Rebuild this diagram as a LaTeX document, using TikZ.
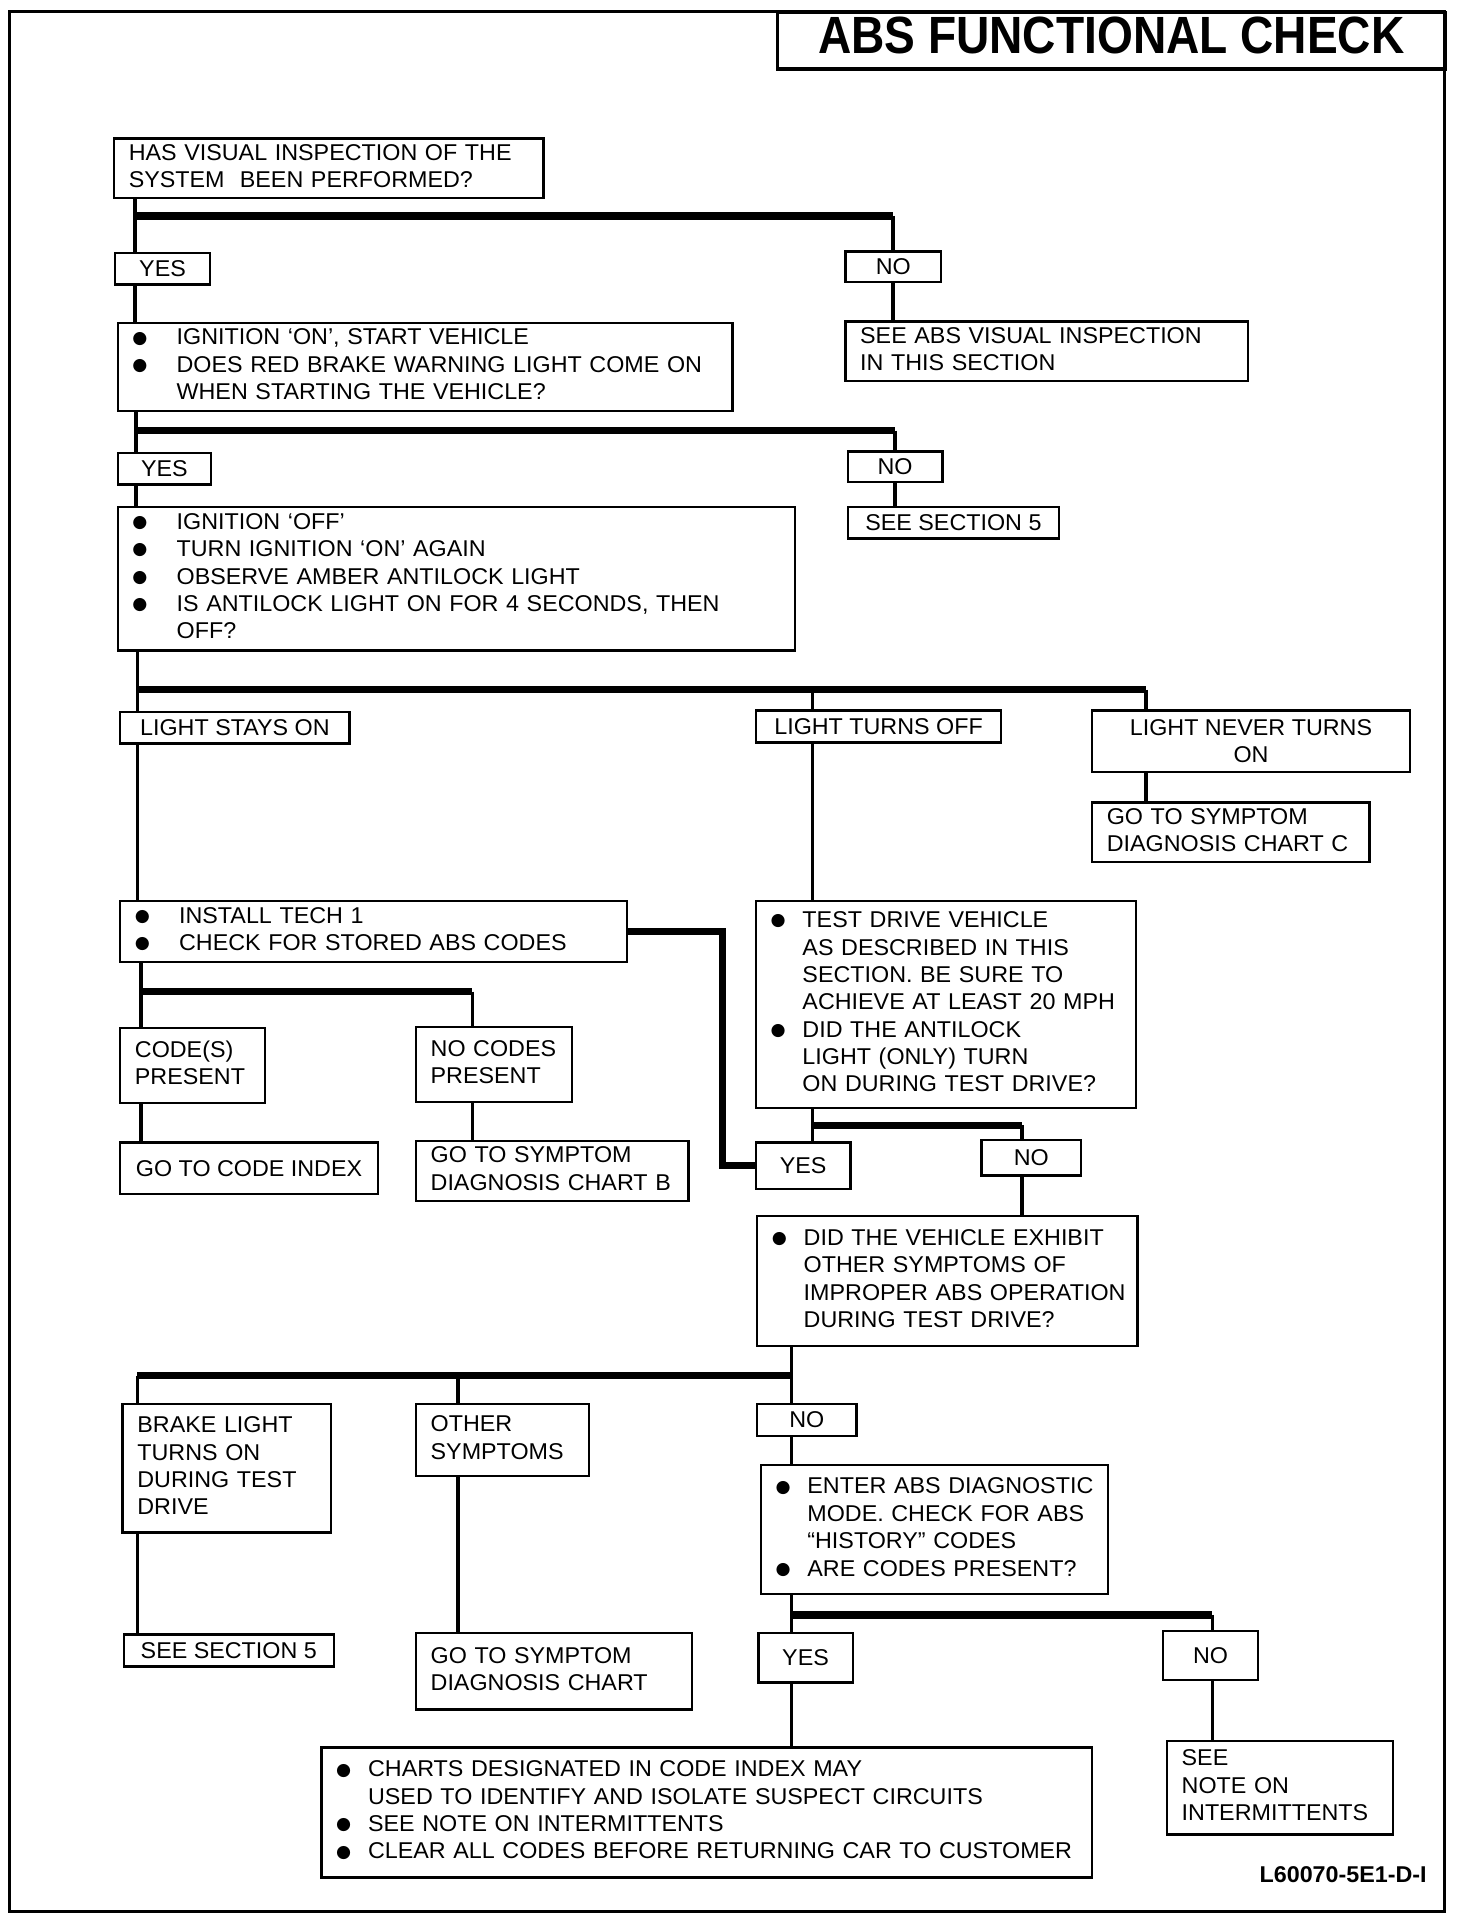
\documentclass[tikz,border=0pt]{standalone}
\usepackage{fontspec}
\newfontfamily\chartfont[FakeStretch=1.02]{Liberation Sans}
\newfontfamily\titlefont[FakeStretch=0.88]{Liberation Sans}
\newfontfamily\dotfont{DejaVu Sans}
\usetikzlibrary{positioning}
\newcommand{\txt}{\chartfont\fontsize{10.6}{12.7}\selectfont}
\newcommand{\rows}[1]{\begin{tabular}{@{}l@{}}#1\end{tabular}}
\newcommand{\dotmark}{\raisebox{0.8pt}{\dotfont\fontsize{8}{8}\selectfont ●}}
\newcommand{\bula}{\makebox[0.72cm][l]{\dotmark}}
\newcommand{\bulb}{\makebox[0.52cm][l]{\dotmark}}
\newcommand{\skipa}{\hspace*{0.72cm}}
\newcommand{\skipb}{\hspace*{0.52cm}}

\begin{document}
\begin{tikzpicture}[x=0.02cm, y=-0.02cm]
\tikzstyle{box}=[draw=black, line width=1.1pt, anchor=north west, align=left, inner xsep=0.24cm, inner ysep=0.04cm, font=\txt]
\tikzstyle{tag}=[draw=black, line width=1.1pt, anchor=north west, align=center, inner sep=0.04cm, font=\txt]
\tikzstyle{vline}=[-, line width=1.7pt]
\tikzstyle{hline}=[-, line width=3.4pt]
\useasboundingbox (0,0) rectangle (1200,1563);
\draw[line width=1.4pt] (8,9) rectangle (1177,1558);
\node[draw=black, line width=1.4pt, anchor=north west, minimum width=10.9cm, minimum height=0.92cm, inner sep=0pt, text height=0.61cm, text depth=0.21cm, font=\titlefont\bfseries\fontsize{24.3}{26}\selectfont] (title) at (632,9) {ABS FUNCTIONAL CHECK};

% first question
\node[box, text width=6.52cm, minimum height=0.9cm] (inspect) at (92,112) {\rows{HAS VISUAL INSPECTION OF THE\\SYSTEM\ \ BEEN PERFORMED?}};
\node[tag, minimum width=1.54cm, minimum height=0.52cm] (yes1) at (93,205) {YES};
\node[tag, minimum width=1.56cm, minimum height=0.5cm] (no1) at (688,204) {NO};
\node[box, text width=9.54cm, minimum height=1.44cm] (start) at (95,262) {\rows{\bula IGNITION ‘ON’, START VEHICLE\\\bula DOES RED BRAKE WARNING LIGHT COME ON\\\skipa WHEN STARTING THE VEHICLE?}};
\node[box, text width=6.08cm, minimum height=0.9cm] (seevis) at (688,261) {\rows{SEE ABS VISUAL INSPECTION\\IN THIS SECTION}};

% antilock light
\node[tag, minimum width=1.52cm, minimum height=0.52cm] (yes2) at (95,368) {YES};
\node[tag, minimum width=1.54cm, minimum height=0.5cm] (no2) at (690,367) {NO};
\node[tag, minimum width=3.44cm, minimum height=0.52cm] (sec5a) at (690,412) {SEE SECTION 5};
\node[box, text width=10.56cm, minimum height=2.34cm] (amber) at (95,412) {\rows{\bula IGNITION ‘OFF’\\\bula TURN IGNITION ‘ON’ AGAIN\\\bula OBSERVE AMBER ANTILOCK LIGHT\\\bula IS ANTILOCK LIGHT ON FOR 4 SECONDS, THEN\\\skipa OFF?}};
\node[tag, minimum width=3.74cm, minimum height=0.52cm] (stays) at (97,579) {LIGHT STAYS ON};
\node[tag, minimum width=4.0cm, minimum height=0.52cm] (turnsoff) at (615,578) {LIGHT TURNS OFF};
\node[tag, minimum width=5.18cm, minimum height=1.0cm] (never) at (889,578) {LIGHT NEVER TURNS\\ON};
\node[box, text width=4.04cm, minimum height=0.9cm] (chartc) at (889,653) {\rows{GO TO SYMPTOM\\DIAGNOSIS CHART C}};

% codes and test drive
\node[box, text width=7.78cm, minimum height=1.0cm] (tech) at (97,733) {\rows{\bula INSTALL TECH 1\\\bula CHECK FOR STORED ABS CODES}};
\node[box, text width=5.72cm, minimum height=3.38cm] (drive) at (615,733) {\rows{\bulb TEST DRIVE VEHICLE\\\skipb AS DESCRIBED IN THIS\\\skipb SECTION. BE SURE TO\\\skipb ACHIEVE AT LEAST 20 MPH\\\bulb DID THE ANTILOCK\\\skipb LIGHT (ONLY) TURN\\\skipb ON DURING TEST DRIVE?}};
\node[box, text width=1.88cm, minimum height=1.22cm] (codes) at (97,837) {\rows{CODE(S)\\PRESENT}};
\node[box, text width=2.06cm, minimum height=1.22cm] (nocodes) at (338,836) {\rows{NO CODES\\PRESENT}};
\node[tag, minimum width=4.2cm, minimum height=0.84cm] (index) at (97,930) {GO TO CODE INDEX};
\node[box, text width=3.96cm, minimum height=0.96cm] (chartb) at (338,929) {\rows{GO TO SYMPTOM\\DIAGNOSIS CHART B}};
\node[tag, minimum width=1.54cm, minimum height=0.76cm] (yes3) at (615,930) {YES};
\node[tag, minimum width=1.62cm, minimum height=0.58cm] (no3) at (799,928) {NO};
\node[box, text width=5.72cm, minimum height=2.12cm] (exhibit) at (616,990) {\rows{\bulb DID THE VEHICLE EXHIBIT\\\skipb OTHER SYMPTOMS OF\\\skipb IMPROPER ABS OPERATION\\\skipb DURING TEST DRIVE?}};

% other symptoms
\node[box, text width=2.92cm, minimum height=2.1cm] (brake) at (99,1143) {\rows{BRAKE LIGHT\\TURNS ON\\DURING TEST\\DRIVE}};
\node[box, text width=2.34cm, minimum height=1.18cm] (other) at (338,1143) {\rows{OTHER\\SYMPTOMS}};
\node[tag, minimum width=1.62cm, minimum height=0.52cm] (no4) at (616,1143) {NO};
\node[box, text width=5.18cm, minimum height=2.1cm] (history) at (619,1193) {\rows{\bulb ENTER ABS DIAGNOSTIC\\\skipb MODE. CHECK FOR ABS\\\skipb “HISTORY” CODES\\\bulb ARE CODES PRESENT?}};
\node[tag, minimum width=3.42cm, minimum height=0.52cm] (sec5b) at (100,1331) {SEE SECTION 5};
\node[box, text width=4.02cm, minimum height=1.24cm] (chart) at (338,1330) {\rows{GO TO SYMPTOM\\DIAGNOSIS CHART}};
\node[tag, minimum width=1.54cm, minimum height=0.8cm] (yes5) at (617,1330) {YES};
\node[tag, minimum width=1.54cm, minimum height=0.8cm] (no5) at (947,1328) {NO};
\node[box, text width=12.08cm, minimum height=2.12cm] (clear) at (261,1423) {\rows{\bulb CHARTS DESIGNATED IN CODE INDEX MAY\\\skipb USED TO IDENTIFY AND ISOLATE SUSPECT CIRCUITS\\\bulb SEE NOTE ON INTERMITTENTS\\\bulb CLEAR ALL CODES BEFORE RETURNING CAR TO CUSTOMER}};
\node[box, text width=3.2cm, minimum height=1.52cm] (notes) at (950,1418) {\rows{SEE\\NOTE ON\\INTERMITTENTS}};
\node[anchor=east, inner sep=0pt, font=\txt\bfseries] (figno) at (1163,1528) {L60070-5E1-D-I};

% branch points
\coordinate (j1) at (110,176);
\coordinate (j2) at (111,351);
\coordinate (j3) at (112,562);
\coordinate (j3b) at (662,562);
\coordinate (j3c) at (934,562);
\coordinate (c4) at (589,755);
\coordinate (j5) at (115,808);
\coordinate (j5b) at (385,808);
\coordinate (j6) at (662,917);
\coordinate (j6b) at (833,917);
\coordinate (j7) at (645,1121);
\coordinate (j7a) at (112,1121);
\coordinate (j7b) at (373,1121);
\coordinate (j8) at (645,1316);
\coordinate (j8b) at (988,1316);

% connectors
\draw[vline] (inspect.south -| j1) -- (yes1.north -| j1);
\draw[hline] (j1) -- (j1 -| no1);
\draw[vline] (j1 -| no1) -- (no1.north);
\draw[vline] (yes1.south -| j1) -- (start.north -| j1);
\draw[vline] (no1.south) -- (no1.south |- seevis.north);

\draw[vline] (start.south -| j2) -- (yes2.north -| j2);
\draw[hline] (j2) -- (j2 -| no2);
\draw[vline] (j2 -| no2) -- (no2.north);
\draw[vline] (yes2.south -| j2) -- (amber.north -| j2);
\draw[vline] (no2.south) -- (no2.south |- sec5a.north);

\draw[vline] (amber.south -| j3) -- (stays.north -| j3);
\draw[hline] (j3) -- (j3c);
\draw[vline] (j3b) -- (turnsoff.north -| j3b);
\draw[vline] (j3c) -- (never.north -| j3c);
\draw[vline] (never.south -| j3c) -- (chartc.north -| j3c);
\draw[vline] (stays.south -| j3) -- (tech.north -| j3);
\draw[vline] (turnsoff.south -| j3b) -- (drive.north -| j3b);

\draw[hline] (tech.east) -| (c4 |- yes3.west) -- (yes3.west);
\draw[vline] (tech.south -| j5) -- (codes.north -| j5);
\draw[hline] (j5) -- (j5b);
\draw[vline] (j5b) -- (nocodes.north -| j5b);
\draw[vline] (codes.south -| j5) -- (index.north -| j5);
\draw[vline] (nocodes.south -| j5b) -- (chartb.north -| j5b);

\draw[vline] (drive.south -| j6) -- (yes3.north -| j6);
\draw[hline] (j6) -- (j6b);
\draw[vline] (j6b) -- (no3.north -| j6b);
\draw[vline] (no3.south -| j6b) -- (exhibit.north -| j6b);

\draw[vline] (exhibit.south -| j7) -- (no4.north -| j7);
\draw[hline] (j7a) -- (j7);
\draw[vline] (j7a) -- (brake.north -| j7a);
\draw[vline] (j7b) -- (other.north -| j7b);
\draw[vline] (no4.south -| j7) -- (history.north -| j7);
\draw[vline] (brake.south -| j7a) -- (sec5b.north -| j7a);
\draw[vline] (other.south -| j7b) -- (chart.north -| j7b);

\draw[vline] (history.south -| j8) -- (yes5.north -| j8);
\draw[hline] (j8) -- (j8b);
\draw[vline] (j8b) -- (no5.north -| j8b);
\draw[vline] (yes5.south -| j8) -- (clear.north -| j8);
\draw[vline] (no5.south -| j8b) -- (notes.north -| j8b);
\end{tikzpicture}
\end{document}
